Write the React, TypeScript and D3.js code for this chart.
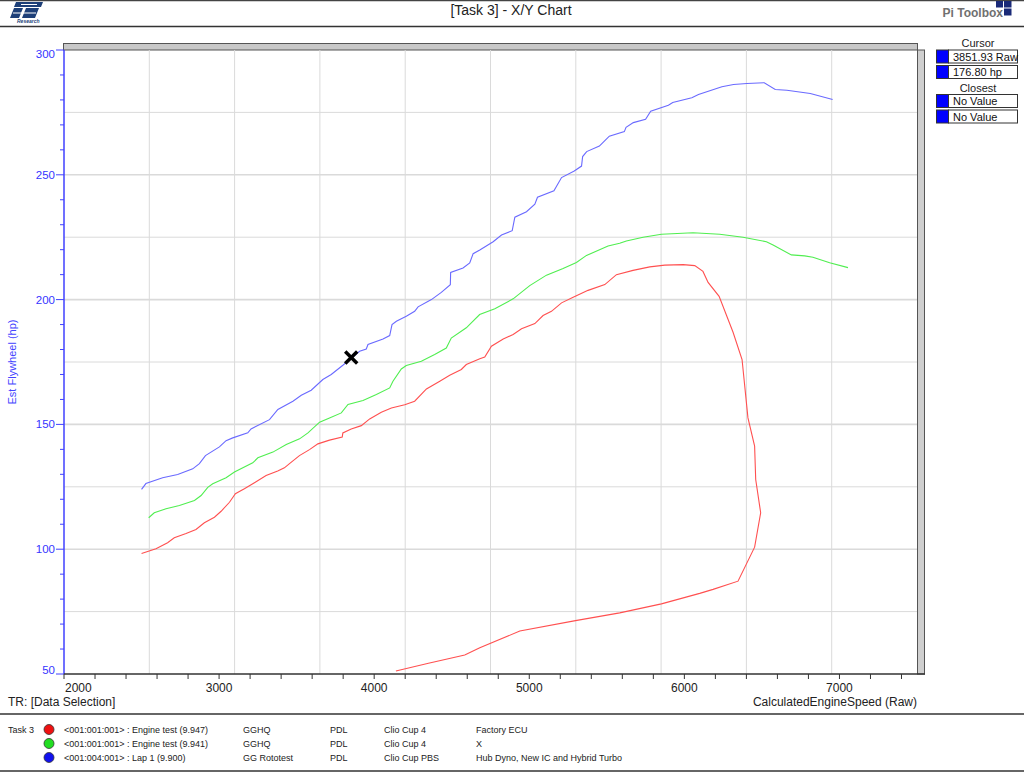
import * as d3 from "d3";
import React from "react";

// ---- data ----
const engineTest947Rpm = [
  2500, 2593, 2668, 2711, 2787, 2851, 2905, 2970, 3013, 3067, 3105, 3163, 3228, 3303, 3378, 3421,
  3454, 3518, 3583, 3637, 3712, 3794, 3798, 3852, 3917, 3971, 4046, 4111, 4197, 4261, 4337, 4423,
  4487, 4562, 4594, 4681, 4713, 4756, 4832, 4896, 4950, 5036, 5089, 5143, 5208, 5283, 5379, 5487,
  5562, 5669, 5777, 5874, 5992, 6067, 6120, 6153, 6224, 6314, 6372, 6410, 6453, 6460, 6492, 6453,
  6346, 6185, 6099, 5852, 5583, 5298, 4939, 4681, 4584, 4350, 4140,
];
const engineTest947Hp = [
  98.3, 100.2, 102.6, 104.6, 106.3, 107.9, 110.6, 112.8, 115.2, 118.8, 122.2, 124.2, 126.6, 129.5,
  131.3, 132.6, 134.3, 137.5, 139.9, 142.2, 143.7, 144.9, 146.6, 148.2, 149.5, 152.2, 154.9, 156.6,
  157.9, 159.3, 164.2, 167.3, 169.7, 172.0, 174.0, 176.3, 177.0, 181.3, 184.2, 186.0, 188.3, 190.4,
  193.6, 195.3, 198.7, 200.9, 203.7, 206.0, 210.0, 211.7, 213.1, 213.8, 214.0, 213.6, 211.3, 206.9,
  201.3, 186.9, 176.0, 152.6, 141.3, 127.9, 114.6, 100.8, 87.2, 83.9, 82.3, 78.1, 74.5, 71.4, 67.2,
  60.5, 57.6, 54.3, 51.2,
];

const engineTest941Rpm = [
  2546, 2582, 2658, 2744, 2841, 2884, 2927, 2959, 3045, 3099, 3217, 3250, 3347, 3433, 3519, 3573,
  3648, 3712, 3788, 3831, 3928, 4014, 4100, 4121, 4175, 4207, 4304, 4390, 4465, 4497, 4594, 4680,
  4778, 4896, 5003, 5111, 5218, 5304, 5369, 5508, 5583, 5626, 5734, 5852, 6056, 6228, 6378, 6529,
  6572, 6690, 6776, 6829, 6937, 7055,
];
const engineTest941Hp = [
  112.6, 114.6, 116.2, 117.5, 119.5, 121.5, 124.8, 126.2, 128.6, 130.9, 134.6, 136.6, 138.9, 141.9,
  144.2, 146.6, 150.9, 152.6, 154.6, 158.0, 159.6, 162.0, 164.6, 167.3, 172.2, 173.6, 175.3, 178.0,
  180.6, 184.6, 188.7, 194.0, 196.3, 200.3, 205.6, 209.8, 212.5, 214.9, 217.7, 221.5, 222.6, 223.5,
  225.0, 226.2, 226.8, 226.2, 225.0, 223.2, 221.9, 217.9, 217.5, 217.0, 214.8, 212.8,
];

const lap1Rpm = [
  2500, 2528, 2636, 2733, 2830, 2873, 2912, 3002, 3045, 3088, 3185, 3206, 3325, 3379, 3476, 3530,
  3594, 3669, 3723, 3798, 3906, 3949, 3960, 4057, 4100, 4115, 4143, 4207, 4261, 4283, 4369, 4433,
  4491, 4493, 4573, 4616, 4638, 4681, 4767, 4821, 4890, 4907, 4982, 5036, 5053, 5159, 5208, 5290,
  5337, 5344, 5370, 5452, 5516, 5613, 5624, 5671, 5750, 5783, 5897, 5925, 6048, 6091, 6242, 6317,
  6403, 6515, 6586, 6661, 6812, 6956,
];
const lap1Hp = [
  124.0, 126.3, 128.6, 129.9, 132.2, 134.3, 137.5, 141.0, 143.5, 144.6, 146.6, 148.2, 151.9, 156.0,
  159.3, 161.7, 163.7, 168.0, 170.0, 173.7, 179.3, 180.2, 182.0, 184.2, 185.6, 190.0, 191.3, 193.3,
  195.3, 197.1, 200.0, 202.9, 206.0, 210.9, 212.7, 214.7, 218.4, 219.9, 223.2, 225.9, 227.6, 233.0,
  235.2, 238.2, 241.0, 243.6, 248.9, 251.5, 253.5, 257.3, 259.3, 261.5, 265.5, 267.3, 269.0, 270.9,
  272.2, 275.5, 277.9, 279.0, 280.9, 282.2, 285.3, 286.2, 286.6, 286.9, 284.2, 283.9, 282.6, 280.2,
];

const cursorRpm = 3851.93;
const cursorHp = 176.8;

const xTickLabels = [2000, 3000, 4000, 5000, 6000, 7000];
const yTickLabels = [50, 100, 150, 200, 250, 300];

const legendColors = ["#ee1111", "#22dd22", "#1111ee"];
const legendRuns = [
  "<001:001:001> : Engine test (9.947)",
  "<001:001:001> : Engine test (9.941)",
  "<001:004:001> : Lap 1 (9.900)",
];
const legendVenues = ["GGHQ", "GGHQ", "GG Rototest"];
const legendTeams = ["PDL", "PDL", "PDL"];
const legendCars = ["Clio Cup 4", "Clio Cup 4", "Clio Cup PBS"];
const legendNotes = ["Factory ECU", "X", "Hub Dyno, New IC and Hybrid Turbo"];

const panelValues = ["3851.93 Raw", "176.80 hp"];
const closestValues = ["No Value", "No Value"];

const FONT = "'Liberation Sans', Arial, sans-serif";

const App: React.FC = () => {
  const W = 1024;
  const H = 772;
  const left = 64;
  const right = 917;
  const top = 50;
  const bottom = 674;

  const x = d3.scaleLinear().domain([2000, 7500]).range([left, right]);
  const y = d3.scaleLinear().domain([50, 300]).range([bottom, top]);

  const line = d3
    .line<[number, number]>()
    .x((d) => x(d[0]))
    .y((d) => y(d[1]));

  const zip = (a: number[], b: number[]) => a.map((v, i) => [v, b[i]] as [number, number]);

  const series = [
    { pts: zip(engineTest947Rpm, engineTest947Hp), color: "#ff5050" },
    { pts: zip(engineTest941Rpm, engineTest941Hp), color: "#50ee50" },
    { pts: zip(lap1Rpm, lap1Hp), color: "#6a6aff" },
  ];

  // 10 equal grid divisions in each direction
  const xGrid = d3.range(1, 10).map((i) => 2000 + i * 550);
  const yGrid = d3.range(1, 10).map((i) => 50 + i * 25);
  const xTicks = d3.range(2000, 7401, 200);
  const yTicks = d3.range(50, 301, 10);

  const cx = x(cursorRpm);
  const cy = y(cursorHp);

  // end labels are kept inside the axis span
  const yLabelPos = (v: number) => {
    const p = y(v) + 4;
    return Math.min(Math.max(p, top + 8), bottom);
  };

  return (
    <svg
      width={W}
      height={H}
      style={{ position: "absolute", left: 0, top: 0, background: "#fff" }}
      fontFamily={FONT}
    >
      <rect x={0} y={0} width={W} height={H} fill="#fff" />

      {/* header */}
      <line x1={0} x2={W} y1={0.5} y2={0.5} stroke="#444" strokeWidth={1.5} />
      <line x1={0} x2={W} y1={26.5} y2={26.5} stroke="#333" strokeWidth={1.5} />
      <g fill="#1d3f78">
        <polygon points="16,2 43,2 41,7 14,7" />
        <polygon points="14,8 23,8 19,18 10,18" />
        <polygon points="26,8 39,8 35,18 22,18" />
        <rect x={21} y={4} width={16} height={1} fill="#fff" />
        <rect x={13} y={12.5} width={23} height={1} fill="#fff" />
        <text x={17} y={23} fontSize={5} fontStyle="italic" fontWeight="bold">
          Research
        </text>
      </g>
      <text x={511} y={15} fontSize={14} textAnchor="middle" fill="#222">
        [Task 3] - X/Y Chart
      </text>
      <text x={1003} y={17} fontSize={12} textAnchor="end" fill="#707070" fontWeight="bold">
        Pi Toolbox
      </text>
      <g fill="#1a2a78">
        <rect x={996} y={1} width={7} height={6.5} />
        <rect x={1004} y={1} width={7.5} height={6.5} />
        <rect x={1004} y={8.5} width={7.5} height={7} />
      </g>

      {/* plot frame */}
      <rect x={left} y={top} width={right - left} height={bottom - top} fill="#fff" />
      <rect x={63.5} y={43.5} width={854} height={6.5} fill="#c8c8c8" stroke="#555" strokeWidth={1} />
      <rect x={917.5} y={50} width={7} height={bottom - 50} fill="#cfcfcf" stroke="#555" strokeWidth={1} />

      {/* grid */}
      {xGrid.map((v) => (
        <line key={"gx" + v} x1={x(v)} x2={x(v)} y1={top} y2={bottom} stroke="#dadada" strokeWidth={1} />
      ))}
      {yGrid.map((v) => (
        <line
          key={"gy" + v}
          x1={left}
          x2={right}
          y1={y(v)}
          y2={y(v)}
          stroke="#dadada"
          strokeWidth={v % 50 === 0 ? 1.6 : 1}
        />
      ))}

      {/* series */}
      {series.map((s, i) => (
        <path key={i} d={line(s.pts) || ""} fill="none" stroke={s.color} strokeWidth={1.1} />
      ))}

      {/* cursor marker */}
      <g stroke="#000" strokeWidth={3.5} strokeLinecap="butt">
        <line x1={cx - 6} y1={cy - 6} x2={cx + 6} y2={cy + 6} />
        <line x1={cx - 6} y1={cy + 6} x2={cx + 6} y2={cy - 6} />
      </g>

      {/* y axis */}
      <line x1={left} x2={left} y1={top} y2={bottom} stroke="#4040ff" strokeWidth={1.5} />
      {yTicks.map((v) => (
        <line
          key={"ty" + v}
          x1={v % 50 === 0 ? left - 8 : left - 4}
          x2={left}
          y1={y(v)}
          y2={y(v)}
          stroke="#4040ff"
          strokeWidth={1}
        />
      ))}
      {yTickLabels.map((v) => (
        <text key={"ly" + v} x={55} y={yLabelPos(v)} fontSize={11.5} textAnchor="end" fill="#3535ff">
          {v}
        </text>
      ))}
      <text
        transform={`translate(16,${(top + bottom) / 2}) rotate(-90)`}
        fontSize={11}
        textAnchor="middle"
        fill="#4545ff"
      >
        Est Flywheel (hp)
      </text>

      {/* x axis */}
      <line x1={left} x2={925} y1={bottom} y2={bottom} stroke="#333" strokeWidth={1.5} />
      {xTicks.map((v) => (
        <line key={"tx" + v} x1={x(v)} x2={x(v)} y1={bottom} y2={bottom + 5} stroke="#333" strokeWidth={1} />
      ))}
      {xTickLabels.map((v, i) => (
        <text
          key={"lx" + v}
          x={i === 0 ? x(v) + 1 : x(v)}
          y={692}
          fontSize={12}
          textAnchor={i === 0 ? "start" : "middle"}
          fill="#222"
        >
          {v}
        </text>
      ))}
      <text x={8} y={706} fontSize={12} fill="#222">
        TR: [Data Selection]
      </text>
      <text x={917} y={706} fontSize={12} textAnchor="end" fill="#222">
        CalculatedEngineSpeed (Raw)
      </text>

      {/* right panel */}
      <text x={978} y={47} fontSize={11} textAnchor="middle" fill="#222">
        Cursor
      </text>
      <text x={978} y={92} fontSize={11} textAnchor="middle" fill="#222">
        Closest
      </text>
      {[...panelValues, ...closestValues].map((t, i) => {
        const by = [50, 65.5, 94.5, 110][i];
        return (
          <g key={"pv" + i}>
            <rect x={948.5} y={by} width={69} height={13} fill="#fff" stroke="#333" strokeWidth={1} />
            <rect x={936.5} y={by} width={12} height={13} fill="#0000ff" stroke="#333" strokeWidth={1} />
            <text x={953} y={by + 10.5} fontSize={11} fill="#111">
              {t}
            </text>
          </g>
        );
      })}

      {/* legend */}
      <line x1={0} x2={W} y1={714} y2={714} stroke="#333" strokeWidth={1.5} />
      <line x1={0} x2={W} y1={771} y2={771} stroke="#333" strokeWidth={1.5} />
      <text x={8} y={732.5} fontSize={9} fill="#222">
        Task 3
      </text>
      {legendRuns.map((run, i) => {
        const ry = 729.5 + i * 14;
        return (
          <g key={"lg" + i} fontSize={9} fill="#222">
            <circle cx={49} cy={ry} r={5} fill={legendColors[i]} stroke="#333" strokeWidth={0.8} />
            <text x={64} y={ry + 3}>{run}</text>
            <text x={243} y={ry + 3}>{legendVenues[i]}</text>
            <text x={330} y={ry + 3}>{legendTeams[i]}</text>
            <text x={384} y={ry + 3}>{legendCars[i]}</text>
            <text x={476} y={ry + 3}>{legendNotes[i]}</text>
          </g>
        );
      })}
    </svg>
  );
};

export default App;
